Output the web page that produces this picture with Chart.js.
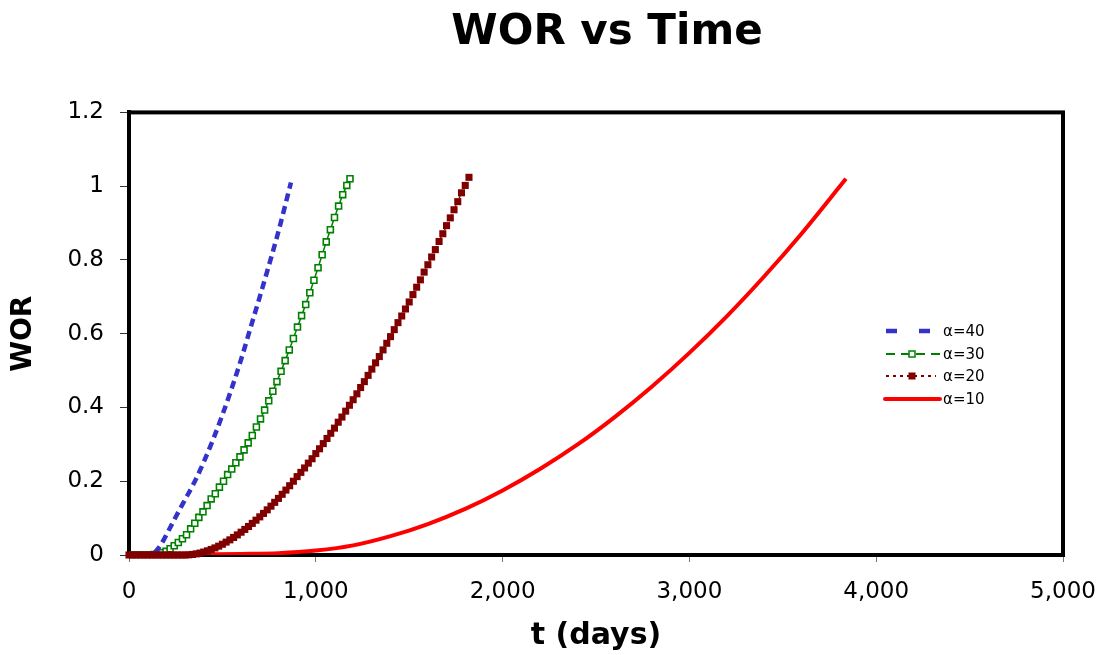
<!DOCTYPE html>
<html>
<head>
<meta charset="utf-8">
<script src="https://cdn.jsdelivr.net/npm/chart.js@4.4.1/dist/chart.umd.min.js"></script>
<style>
  body { margin: 0; background: #fff; }
  #wrap { position: relative; width: 1107px; height: 655px; }
  #legend { position: absolute; left: 882px; top: 320px; font-family: 'DejaVu Sans', sans-serif; font-size: 15px; color: #000; }
  #legend .row { display: flex; align-items: center; height: 22.5px; }
  #legend svg { width: 60px; height: 14px; margin-right: 1px; }
</style>
</head>
<body>
<div id="wrap">
  <canvas id="c" width="1107" height="655"></canvas>
  <div id="legend"></div>
</div>
<script>
// series labels
const LABELS = ['α=40', 'α=30', 'α=20', 'α=10'];
const COLORS = ['#3333cc', '#008000', '#800000', '#ff0000'];

// α=40
const T40 = [0, 60, 100, 130, 160, 190, 220, 250, 300, 350, 400, 450, 500, 550, 600, 650, 700, 750, 800, 867];
const W40 = [0, 0, 0.001, 0.004, 0.02, 0.045, 0.074, 0.103, 0.15, 0.197, 0.252, 0.313, 0.38, 0.452, 0.53, 0.615, 0.7, 0.787, 0.877, 1.01];

// α=30
const T30 = [0, 22, 44, 66, 88, 110, 132, 154, 176, 198, 220, 242, 264, 286, 308, 330, 352, 374, 396, 418,
  440, 462, 484, 506, 528, 550, 572, 594, 616, 638, 660, 682, 704, 726, 748, 770, 792, 814, 836, 858,
  880, 902, 924, 946, 968, 990, 1012, 1034, 1056, 1078, 1100, 1122, 1144, 1166, 1183];
const W30 = [0, 0, 0, 0, 0, 0, 0.001, 0.002, 0.006, 0.01, 0.017, 0.025, 0.034, 0.044, 0.055, 0.071, 0.086, 0.102, 0.117, 0.134,
  0.152, 0.166, 0.184, 0.2, 0.218, 0.233, 0.25, 0.266, 0.285, 0.304, 0.324, 0.347, 0.369, 0.393, 0.418, 0.444, 0.47, 0.498, 0.527, 0.556,
  0.587, 0.618, 0.649, 0.679, 0.711, 0.745, 0.779, 0.814, 0.849, 0.882, 0.915, 0.946, 0.977, 1.002, 1.02];

// α=20
const T20 = [0, 20, 40, 60, 80, 100, 120, 140, 160, 180, 200, 220, 240, 260, 280, 300, 320, 340, 360, 380,
  400, 420, 440, 460, 480, 500, 520, 540, 560, 580, 600, 620, 640, 660, 680, 700, 720, 740, 760, 780,
  800, 820, 840, 860, 880, 900, 920, 940, 960, 980, 1000, 1020, 1040, 1060, 1080, 1100, 1120, 1140, 1160, 1180,
  1200, 1220, 1240, 1260, 1280, 1300, 1320, 1340, 1360, 1380, 1400, 1420, 1440, 1460, 1480, 1500, 1520, 1540, 1560, 1580,
  1600, 1620, 1640, 1660, 1680, 1700, 1720, 1740, 1760, 1780, 1800, 1820];
const W20 = [0, 0, 0, 0, 0, 0, 0, 0, 0, 0, 0, 0, 0, 0, 0, 0,
  0.0005, 0.0015, 0.003, 0.0052, 0.008, 0.0113, 0.015, 0.0192, 0.024, 0.0292,
  0.035, 0.0411, 0.0476, 0.0545, 0.0618, 0.0694, 0.0774, 0.0857, 0.0944, 0.1034,
  0.1127, 0.1224, 0.1324, 0.1428, 0.1535, 0.1646, 0.176, 0.1878, 0.2, 0.2125,
  0.224, 0.236, 0.249, 0.261, 0.275, 0.288, 0.302, 0.316, 0.33, 0.344,
  0.36, 0.374, 0.39, 0.406, 0.421, 0.437, 0.454, 0.47, 0.487, 0.504,
  0.521, 0.538, 0.556, 0.574, 0.592, 0.611, 0.63, 0.648, 0.667, 0.686,
  0.706, 0.726, 0.746, 0.767, 0.787, 0.808, 0.828, 0.85, 0.871, 0.893,
  0.914, 0.936, 0.958, 0.982, 1.002, 1.024];

// α=10
const T10 = [0, 200, 400, 600, 800, 1000, 1200, 1400, 1600, 1800, 2000, 2200, 2400, 2600, 2800, 3000, 3200, 3400, 3600, 3838];
const W10 = [0, 0.001, 0.002, 0.003, 0.005, 0.012, 0.026, 0.051, 0.084, 0.125, 0.175, 0.233, 0.299, 0.374, 0.457, 0.548, 0.647, 0.755, 0.871, 1.02];

const X_TICKS = [0, 1000, 2000, 3000, 4000, 5000];
const Y_TICKS = [0, 0.2, 0.4, 0.6, 0.8, 1, 1.2];

const pts = (xs, ys) => xs.map((x, i) => ({ x, y: ys[i] }));

// black box round the plot area
const frame = {
  id: 'frame',
  beforeDatasetsDraw(chart) {
    const { ctx, chartArea: a } = chart;
    ctx.save();
    ctx.strokeStyle = '#000';
    ctx.lineWidth = 4;
    ctx.strokeRect(a.left, a.top, a.right - a.left, a.bottom - a.top);
    ctx.restore();
  },
};

// nudge the title a little to the right, as in the original
const titleShift = {
  id: 'titleShift',
  afterLayout(chart) {
    if (chart.titleBlock) { chart.titleBlock.left += 11; chart.titleBlock.right += 11; }
  },
};

const FONT = 'DejaVu Sans';

new Chart(document.getElementById('c'), {
  type: 'line',
  data: {
    datasets: [
      {
        label: LABELS[0], data: pts(T40, W40), borderColor: COLORS[0], borderWidth: 4.5,
        borderDash: [8, 5], pointRadius: 0, cubicInterpolationMode: 'monotone', order: 1,
      },
      {
        label: LABELS[1], data: pts(T30, W30), borderColor: COLORS[1], borderWidth: 1.5,
        pointStyle: 'rect', pointRadius: 4.2, pointBorderWidth: 1.6, pointBorderColor: COLORS[1],
        pointBackgroundColor: '#fff', order: 2,
      },
      {
        label: LABELS[2], data: pts(T20, W20), borderColor: COLORS[2], borderWidth: 1.5,
        borderDash: [2, 3], pointStyle: 'rect', pointRadius: 5, pointBorderWidth: 0,
        pointBackgroundColor: COLORS[2], clip: false, order: 0,
      },
      {
        label: LABELS[3], data: pts(T10, W10), borderColor: COLORS[3], borderWidth: 4,
        pointRadius: 0, cubicInterpolationMode: 'monotone', order: 3,
      },
    ],
  },
  options: {
    responsive: false,
    animation: false,
    layout: { padding: { left: 0, right: 44, top: 0, bottom: 0 } },
    plugins: {
      legend: { display: false },
      tooltip: { enabled: false },
      title: {
        display: true, text: 'WOR vs Time', color: '#000', fullSize: false,
        font: { family: FONT, size: 42, weight: 'bold' },
        padding: { top: 8, bottom: 54 },
      },
    },
    scales: {
      x: {
        type: 'linear', min: 0, max: 5000,
        afterFit: s => { s.height = 100; s.paddingLeft = 0; s.paddingRight = 0; },
        afterBuildTicks: s => { s.ticks = X_TICKS.map(v => ({ value: v })); },
        grid: { drawOnChartArea: false, color: '#777', tickLength: 7 },
        border: { color: '#000', width: 4 },
        ticks: {
          color: '#000', padding: 16, font: { family: FONT, size: 23 }, maxRotation: 0,
          callback: v => v.toLocaleString('en-US'),
        },
        title: { display: true, text: 't (days)', color: '#000', font: { family: FONT, size: 30, weight: 'bold' }, padding: { top: 0, bottom: 1 } },
      },
      y: {
        type: 'linear', min: 0, max: 1.2,
        afterFit: s => { s.width = 129; },
        afterBuildTicks: s => { s.ticks = Y_TICKS.map(v => ({ value: v })); },
        grid: { drawOnChartArea: false, color: '#333', tickLength: 9 },
        border: { color: '#000', width: 4 },
        ticks: {
          color: '#000', padding: 16, font: { family: FONT, size: 23 },
          callback: v => String(Number(v.toFixed(1))),
        },
        title: { display: true, text: 'WOR', color: '#000', font: { family: FONT, size: 28, weight: 'bold' }, padding: { top: 7, bottom: 0 } },
      },
    },
  },
  plugins: [frame, titleShift],
});

// legend drawn next to the chart, inside the plot box
const SAMPLES = [
  `<line x1="4" y1="7" x2="15" y2="7" stroke="${COLORS[0]}" stroke-width="4.5"/><line x1="37" y1="7" x2="48" y2="7" stroke="${COLORS[0]}" stroke-width="4.5"/>`,
  `<line x1="4" y1="7" x2="58" y2="7" stroke="${COLORS[1]}" stroke-width="1.8" stroke-dasharray="9 6"/><rect x="27" y="4" width="6" height="6" fill="#fff" stroke="${COLORS[1]}" stroke-width="1.5"/>`,
  `<line x1="4" y1="7" x2="54" y2="7" stroke="${COLORS[2]}" stroke-width="1.8" stroke-dasharray="3 4"/><rect x="26.5" y="3.5" width="7" height="7" fill="${COLORS[2]}"/>`,
  `<line x1="3" y1="7" x2="58" y2="7" stroke="${COLORS[3]}" stroke-width="4" stroke-linecap="round"/>`,
];
document.getElementById('legend').innerHTML = LABELS.map((l, i) =>
  `<div class="row"><svg viewBox="0 0 60 14">${SAMPLES[i]}</svg><span>${l}</span></div>`).join('');
</script>
</body>
</html>
